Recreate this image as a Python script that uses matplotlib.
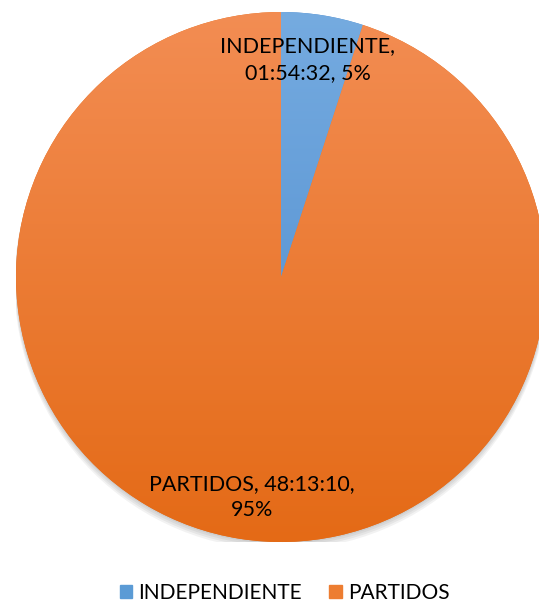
import matplotlib
matplotlib.use("Agg")
import matplotlib.pyplot as plt
import numpy as np
from matplotlib.colors import LinearSegmentedColormap
from matplotlib.patches import Circle, Rectangle

categories = ["INDEPENDIENTE", "PARTIDOS"]
durations = ["01:54:32", "48:13:10"]
percents = [5, 95]

plt.rcParams['font.family'] = ['Lato', 'DejaVu Sans']

W, H = 539, 603
fig = plt.figure(figsize=(W / 100, H / 100), dpi=100)
cx, cy, r = 281, 277, 265
ax = fig.add_axes([(cx - r) / W, (H - cy - r) / H, 2 * r / W, 2 * r / H])
ax.set_xlim(-1, 1)
ax.set_ylim(-1, 1)
ax.set_aspect('equal')
ax.axis('off')

# shadow
for i, a in enumerate([0.05, 0.05, 0.05, 0.05]):
    ax.add_patch(Circle((0, -0.006 * (i + 1)), 1.0 + 0.002 * i, color='black',
                        alpha=a, lw=0, zorder=0))

grads = [("#75ABE0", "#4A88CC"), ("#F38D53", "#E46A16")]
legend_colors = ["#5B9BD5", "#ED7D31"]
wedges, _ = ax.pie(percents, startangle=90, counterclock=False, radius=1.0,
                   colors=[g[1] for g in grads],
                   wedgeprops=dict(linewidth=0))
grad = np.linspace(0, 1, 256).reshape(-1, 1)
for w, (c1, c2) in zip(wedges, grads):
    cmap = LinearSegmentedColormap.from_list("g", [c1, c2])
    im = ax.imshow(grad, cmap=cmap, extent=[-1, 1, -1, 1], origin='upper',
                   aspect='auto', zorder=2)
    im.set_clip_path(w)

ax.set_xlim(-1, 1)
ax.set_ylim(-1, 1)

fs = 15.5
ax.text(0.10, 0.82, f"{categories[0]},\n{durations[0]}, {percents[0]}%",
        ha='center', va='center', fontsize=fs, zorder=5, linespacing=1.4)
ax.text(-0.11, -0.83, f"{categories[1]}, {durations[1]},\n{percents[1]}%",
        ha='center', va='center', fontsize=fs, zorder=5, linespacing=1.4)

# legend
handles = [Rectangle((0, 0), 1, 1, color=c) for c in legend_colors]
fig.legend(handles, categories, loc='center', bbox_to_anchor=(0.528, 1 - 593 / H),
           ncol=2, frameon=False, fontsize=15, handlelength=0.6, handleheight=0.6,
           handletextpad=0.3, columnspacing=1.3)

fig.savefig("out.png", dpi=100)
